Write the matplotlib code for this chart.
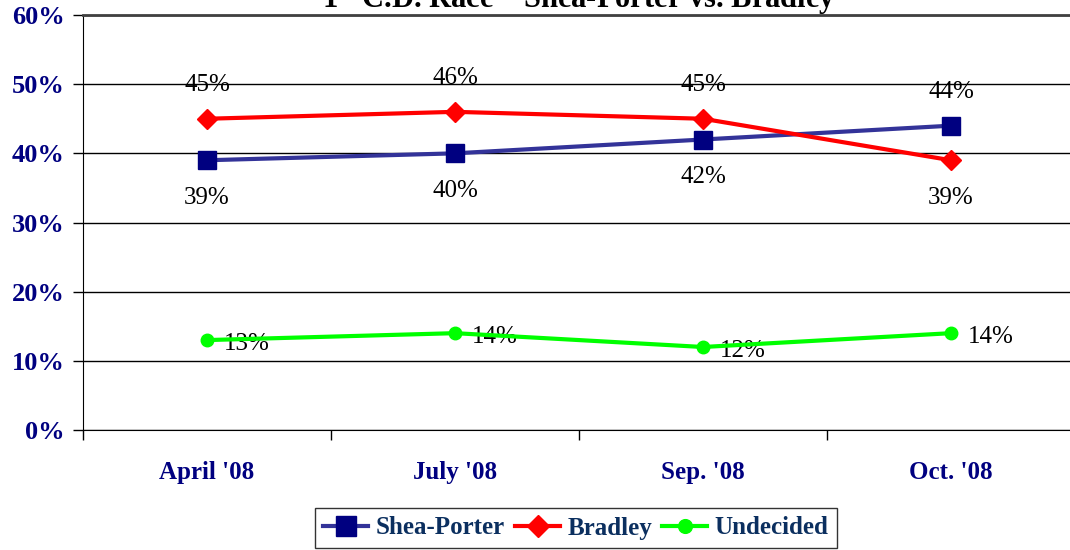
import matplotlib
matplotlib.use("Agg")
import matplotlib.pyplot as plt
from matplotlib.ticker import FixedLocator, NullFormatter

categories = ["April '08", "July '08", "Sep. '08", "Oct. '08"]
shea_porter = [39, 40, 42, 44]
bradley = [45, 46, 45, 39]
undecided = [13, 14, 12, 14]
yticks = [0, 10, 20, 30, 40, 50, 60]

SERIF = ["Liberation Serif", "DejaVu Serif"]
NAVY = "#000080"

fig = plt.figure(figsize=(10.70, 5.50), dpi=100)
ax = fig.add_axes([83/1070, 1 - 430/550, (1075 - 83)/1070, (430 - 15)/550])

x = list(range(len(categories)))
ax.plot(x, shea_porter, color="#333399", lw=3, marker="s", ms=13,
        mfc=NAVY, mec=NAVY, label="Shea-Porter", zorder=4)
ax.plot(x, bradley, color="#FF0000", lw=3, marker="D", ms=10,
        mfc="#FF0000", mec="#FF0000", label="Bradley", zorder=4)
ax.plot(x, undecided, color="#00FF00", lw=3, marker="o", ms=9,
        mfc="#00FF00", mec="#00FF00", label="Undecided", zorder=4)

lab_kw = dict(fontsize=18, family=SERIF, color="black", textcoords="offset points")
for i, v in enumerate(shea_porter):
    dy = -27 if v < bradley[i] else 24
    ax.annotate(f"{v}%", (i, v), xytext=(0, dy), ha="center", va="center", **lab_kw)
for i, v in enumerate(bradley):
    dy = 24 if v > shea_porter[i] else -27
    ax.annotate(f"{v}%", (i, v), xytext=(0, dy), ha="center", va="center", **lab_kw)
for i, v in enumerate(undecided):
    ax.annotate(f"{v}%", (i, v), xytext=(12, -3), ha="left", va="center", **lab_kw)

ax.set_xlim(-0.5, 3.5)
ax.set_ylim(0, 60)
ax.set_yticks(yticks)
ax.set_yticklabels([f"{t}%" for t in yticks], fontsize=19, fontweight="bold",
                   family=SERIF, color=NAVY)
ax.set_xticks(x)
ax.set_xticklabels(categories, fontsize=18, fontweight="bold", family=SERIF, color=NAVY)
ax.tick_params(axis="x", which="major", length=0, pad=22)
ax.xaxis.set_minor_locator(FixedLocator([-0.5, 0.5, 1.5, 2.5]))
ax.xaxis.set_minor_formatter(NullFormatter())
ax.tick_params(axis="x", which="minor", length=7, width=1, direction="out", color="black")
ax.tick_params(axis="y", length=7, width=1, direction="out", pad=6)

ax.grid(axis="y", color="black", lw=1)
ax.set_axisbelow(True)
ax.spines["right"].set_visible(False)
ax.spines["top"].set_color("#404040")
ax.spines["top"].set_linewidth(2)
ax.spines["left"].set_color("black")
ax.spines["bottom"].set_color("black")

fig.text(579/1070, 1 - 8/550, "1$^{\\mathregular{st}}$ C.D. Race \u2013 Shea-Porter vs. Bradley",
         ha="center", va="baseline", fontsize=22, fontweight="bold", family=SERIF,
         color="black")

leg = fig.legend(loc="center", bbox_to_anchor=(576/1070, 1 - 528/550), ncol=3,
                 prop={"family": SERIF, "weight": "bold", "size": 18},
                 frameon=True, fancybox=False, edgecolor="black",
                 handlelength=1.8, handletextpad=0.3, columnspacing=0.4,
                 borderpad=0.35, borderaxespad=0, markerscale=1.1)
leg.get_frame().set_linewidth(1)
for t in leg.get_texts():
    t.set_color("#0B2F5F")

fig.savefig("out.png", dpi=100)
